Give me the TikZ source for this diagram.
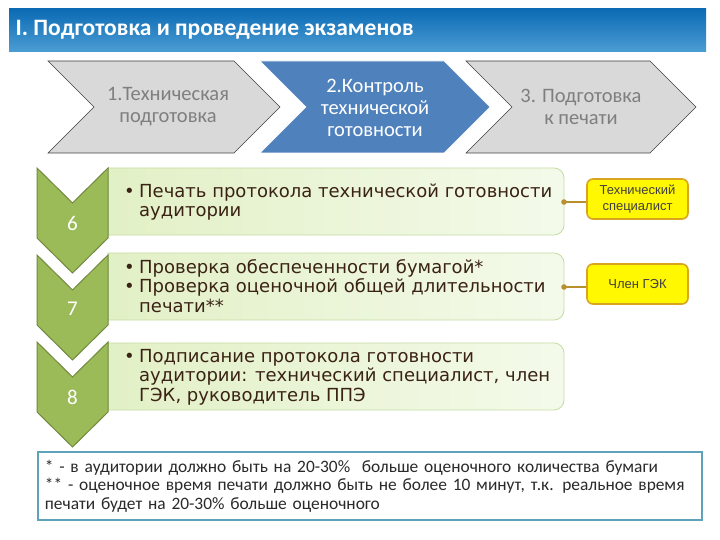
\documentclass[tikz,border=0pt]{standalone}
\usepackage{fontspec}
\setmainfont{Carlito}
\newfontfamily\dvs{DejaVu Sans}
\newfontfamily\lib{Liberation Sans}
\definecolor{titletop}{HTML}{0C6BB4}
\definecolor{titlebot}{HTML}{4C9DD4}
\definecolor{graychev}{HTML}{D9D9D9}
\definecolor{graytext}{HTML}{7F7F7F}
\definecolor{bluechev}{HTML}{4F81BD}
\definecolor{greenchev}{HTML}{9BBB59}
\definecolor{greenborder}{HTML}{71893F}
\definecolor{rowleft}{HTML}{E2F0C6}
\definecolor{rowright}{HTML}{F4FAEA}
\definecolor{rowborder}{HTML}{C6DCA4}
\definecolor{rowtext}{HTML}{3A2214}
\definecolor{yfill}{HTML}{FFF800}
\definecolor{yborder}{HTML}{D9A520}
\definecolor{linkc}{HTML}{B8902E}
\definecolor{noteborder}{HTML}{5FA3BA}
\definecolor{notetext}{HTML}{2A2A2A}
\tikzset{
  graychevron/.style={fill=graychev, draw=black!75, line width=0.6pt},
  bluechevron/.style={fill=bluechev, draw=white, line width=0.6pt},
  greenchevron/.style={fill=greenchev, draw=greenborder, line width=1pt},
  chevtext/.style={align=center, font=\fontsize{20.5}{22}\selectfont},
  numtext/.style={text=white, font=\fontsize{21}{24}\selectfont},
  rowbox/.style={left color=rowleft, right color=rowright, draw=rowborder, line width=0.8pt},
  rowtextstyle/.style={anchor=west, align=left, text=rowtext, inner sep=0pt, font=\dvs\fontsize{18}{19.5}\selectfont},
  rolebox/.style={fill=yfill, draw=yborder, line width=1.6pt, rounded corners=6pt, minimum width=101pt, minimum height=40pt, inner sep=1pt, align=center, text=black!75, font=\lib\fontsize{13}{16.5}\selectfont},
  link/.style={draw=linkc, line width=1.6pt},
  notebox/.style={draw=noteborder, line width=1.8pt, fill=white, anchor=north west, minimum width=664pt, minimum height=68pt, text width=650pt, inner xsep=7pt, align=left, text=notetext, font=\fontsize{17.4}{18.5}\selectfont}
}
\newcommand{\bul}{\makebox[15pt][l]{•}}
\newcommand{\ind}{\hspace*{15pt}}
\begin{document}
\begin{tikzpicture}[x=1pt,y=-1pt]
\useasboundingbox (0,0) rectangle (720,540);
\fill[white] (0,0) rectangle (720,540);
% title bar
\shade[top color=titletop, bottom color=titlebot] (9,9) rectangle (706,52);
\node[anchor=west, text=white, font=\bfseries\fontsize{23.5}{26}\selectfont] (title) at (12,30) {I. Подготовка и проведение экзаменов};
% top chevrons
\draw[graychevron] (48,61) -- (234,61) -- (280,107) -- (234,153) -- (48,153) -- (94,107) -- cycle;
\node[chevtext, text=graytext] (c1) at (168,107) {1.Техническая\\подготовка};
\draw[bluechevron] (260,61) -- (444,61) -- (490,107) -- (444,153) -- (260,153) -- (306,107) -- cycle;
\node[chevtext, text=white] (c2) at (375,108) {2.Контроль\\технической\\готовности};
\draw[graychevron] (466,61) -- (650,61) -- (696,107) -- (650,153) -- (466,153) -- (512,107) -- cycle;
\node[chevtext, text=graytext] (c3) at (581,107) {3. Подготовка\\к печати};
% rows
\shade[rowbox] (108,168) [rounded corners=10pt] -- (564,168) -- (564,235) [sharp corners] -- (108,235) -- cycle;
\shade[rowbox] (108,253) [rounded corners=10pt] -- (564,253) -- (564,320) [sharp corners] -- (108,320) -- cycle;
\shade[rowbox] (108,343) [rounded corners=10pt] -- (564,343) -- (564,410) [sharp corners] -- (108,410) -- cycle;
% green chevrons
\foreach \T/\n in {168/6, 255/7, 342/8}{
  \draw[greenchevron] (37,\T) -- (72.5,\T+35) -- (108,\T) -- (108,\T+70) -- (72.5,\T+105) -- (37,\T+70) -- cycle;
}
\node[numtext] (n6) at (72.5,223) {6};
\node[numtext] (n7) at (72.5,309) {7};
\node[numtext] (n8) at (72.5,397) {8};
% row texts
\node[rowtextstyle] (r1) at (124,202) {\bul Печать протокола технической готовности\\\ind аудитории};
\node[rowtextstyle] (r2) at (124,286) {\bul Проверка обеспеченности бумагой*\\\bul Проверка оценочной общей длительности\\\ind печати**};
\node[rowtextstyle] (r3) at (124,377) {\bul Подписание протокола готовности\\\ind аудитории: технический специалист, член\\\ind ГЭК, руководитель ППЭ};
% role boxes
\node[rolebox] (y1) at (637.5,199) {Технический\\специалист};
\node[rolebox] (y2) at (637.5,284) {Член ГЭК};
\coordinate (d1) at (564,202);
\coordinate (d2) at (564,287);
\draw[link] (d1) -- (d1 -| y1.west);
\draw[link] (d2) -- (d2 -| y2.west);
\fill[linkc] (d1) circle (2.8);
\fill[linkc] (d2) circle (2.8);
% note
\node[notebox] (note) at (37,451) {* - в аудитории должно быть на 20-30\%~ больше оценочного количества бумаги\\{}** - оценочное время печати должно быть не более 10 минут, т.к. реальное время\\печати будет на 20-30\% больше оценочного};
\end{tikzpicture}
\end{document}
